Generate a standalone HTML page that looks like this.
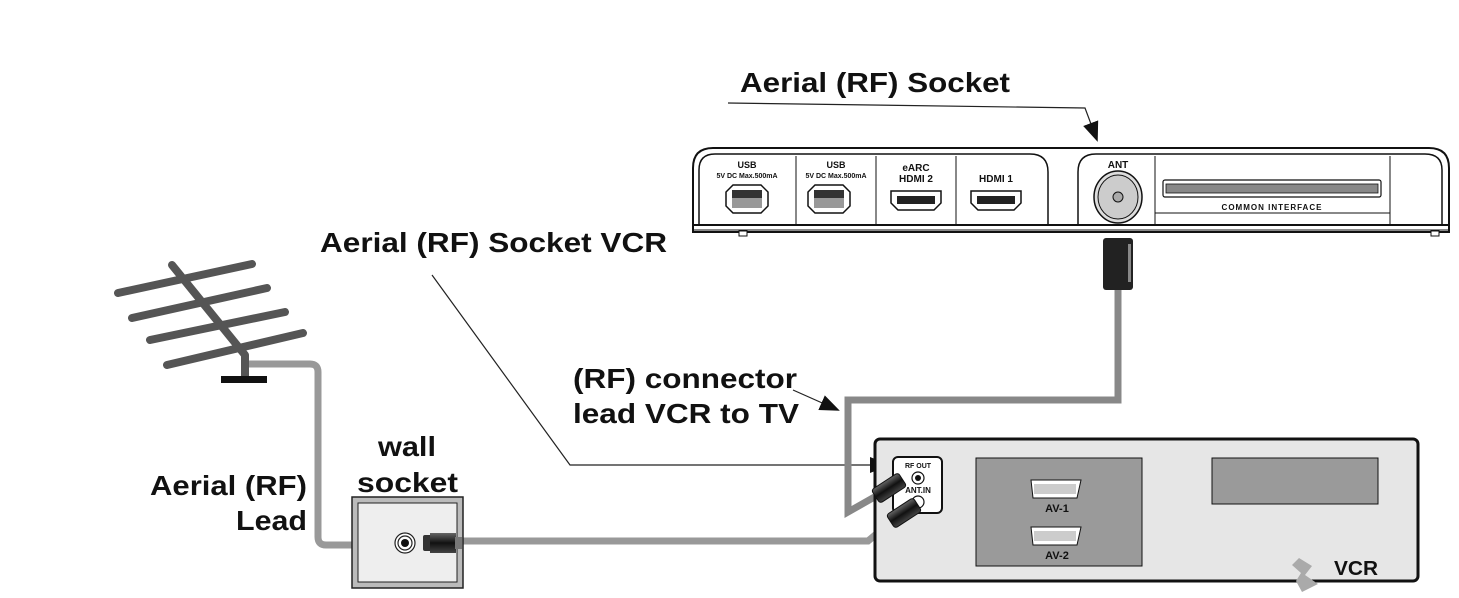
<!DOCTYPE html>
<html><head><meta charset="utf-8"><style>
html,body{margin:0;padding:0;background:#fff;}
svg{display:block;}
text{font-family:"Liberation Sans",Arial,sans-serif;font-weight:bold;fill:#111;}
</style></head><body>
<svg width="1459" height="598" viewBox="0 0 1459 598" xmlns="http://www.w3.org/2000/svg">
<defs>
<marker id="ah2" markerWidth="20" markerHeight="20" refX="18" refY="10" orient="auto" markerUnits="userSpaceOnUse">
<path d="M0,2 L20,10 L0,18 z" fill="#111"/></marker>
<linearGradient id="cg" x1="0" y1="0" x2="0" y2="1"><stop offset="0" stop-color="#666"/><stop offset="0.5" stop-color="#111"/><stop offset="1" stop-color="#444"/></linearGradient>
</defs>

<!-- labels -->
<text x="740" y="92" font-size="28" textLength="270" lengthAdjust="spacingAndGlyphs">Aerial (RF) Socket</text>
<polyline points="728,103 1085,108 1097,140" fill="none" stroke="#222" stroke-width="1.2" marker-end="url(#ah2)"/>
<text x="320" y="252" font-size="28" textLength="347" lengthAdjust="spacingAndGlyphs">Aerial (RF) Socket VCR</text>
<polyline points="432,275 570,465 888,465" fill="none" stroke="#222" stroke-width="1.2" marker-end="url(#ah2)"/>
<text x="573" y="388" font-size="28" textLength="224" lengthAdjust="spacingAndGlyphs">(RF) connector</text>
<text x="573" y="423" font-size="28" textLength="226" lengthAdjust="spacingAndGlyphs">lead VCR to TV</text>
<line x1="793" y1="390" x2="838" y2="410" stroke="#222" stroke-width="1.2" marker-end="url(#ah2)"/>
<text x="378" y="456" font-size="28" textLength="58" lengthAdjust="spacingAndGlyphs">wall</text>
<text x="357" y="492" font-size="28" textLength="101" lengthAdjust="spacingAndGlyphs">socket</text>
<text x="150" y="495" font-size="28" textLength="157" lengthAdjust="spacingAndGlyphs">Aerial (RF)</text>
<text x="236" y="530" font-size="28" textLength="71" lengthAdjust="spacingAndGlyphs">Lead</text>

<!-- antenna -->
<g stroke="#555" stroke-width="8" stroke-linecap="round">
<line x1="118" y1="293" x2="252" y2="264"/>
<line x1="132" y1="318" x2="267" y2="288"/>
<line x1="150" y1="340" x2="285" y2="312"/>
<line x1="167" y1="365" x2="303" y2="333"/>
<line x1="172" y1="265" x2="245" y2="355"/>
<line x1="245" y1="355" x2="245" y2="378" stroke-linecap="butt"/>
</g>
<rect x="221" y="376" width="46" height="7" fill="#111"/>

<!-- cables -->
<path d="M249,364 H310 Q318,364 318,372 V537 Q318,545 326,545 H352" fill="none" stroke="#999" stroke-width="7"/>
<path d="M462,541 H868 L893,520" fill="none" stroke="#999" stroke-width="7"/>
<path d="M1118,290 V400 H848 V512 L878,495" fill="none" stroke="#888" stroke-width="7"/>

<!-- wall socket -->
<rect x="352" y="497" width="111" height="91" fill="#bbb" stroke="#222" stroke-width="1.5"/>
<rect x="358" y="503" width="99" height="79" fill="#eee" stroke="#222" stroke-width="1"/>
<circle cx="405" cy="543" r="10" fill="#fff" stroke="#222" stroke-width="1.2"/>
<circle cx="405" cy="543" r="7" fill="#fff" stroke="#222" stroke-width="1.2"/>
<circle cx="405" cy="543" r="4" fill="#111"/>
<rect x="423" y="535" width="10" height="16" rx="2" fill="#333"/>
<rect x="430" y="533" width="26" height="20" fill="url(#cg)"/>
<rect x="455" y="537" width="7" height="12" fill="#777"/>

<!-- TV panel -->
<path d="M693,232 V168 Q693,148 713,148 H1429 Q1449,148 1449,168 V232 Z" fill="#fff" stroke="#111" stroke-width="2"/>
<path d="M699,225 V170 Q699,154 715,154 H1030 Q1048,154 1048,172 V225" fill="none" stroke="#111" stroke-width="1.5"/>
<path d="M1078,225 V172 Q1078,154 1096,154 H1425 Q1442,154 1442,170 V225" fill="none" stroke="#111" stroke-width="1.5"/>
<line x1="693" y1="225" x2="1449" y2="225" stroke="#111" stroke-width="2"/>
<line x1="693" y1="230" x2="1449" y2="230" stroke="#111" stroke-width="1"/>
<rect x="739" y="231" width="8" height="5" fill="#fff" stroke="#111" stroke-width="1"/>
<rect x="1431" y="231" width="8" height="5" fill="#fff" stroke="#111" stroke-width="1"/>
<g stroke="#111" stroke-width="1"><line x1="796" y1="156" x2="796" y2="225"/><line x1="876" y1="156" x2="876" y2="225"/><line x1="956" y1="156" x2="956" y2="225"/>
<line x1="1155" y1="156" x2="1155" y2="225"/><line x1="1390" y1="156" x2="1390" y2="225"/><line x1="1155" y1="213" x2="1390" y2="213"/></g>
<g font-size="9" text-anchor="middle">
<text x="747" y="168">USB</text><text x="747" y="178" font-size="7">5V DC Max.500mA</text>
<text x="836" y="168">USB</text><text x="836" y="178" font-size="7">5V DC Max.500mA</text>
<text x="916" y="171" font-size="10">eARC</text><text x="916" y="182" font-size="10">HDMI 2</text>
<text x="996" y="182" font-size="10">HDMI 1</text>
<text x="1118" y="168" font-size="10">ANT</text>
<text x="1272" y="210" font-size="8" letter-spacing="1">COMMON INTERFACE</text>
</g>
<g fill="#fff" stroke="#111" stroke-width="1.5">
<path d="M733,185 H761 L768,192 V206 L761,213 H733 L726,206 V192 Z"/>
<path d="M815,185 H843 L850,192 V206 L843,213 H815 L808,206 V192 Z"/>
<path d="M891,191 H941 V203 L934,210 H898 L891,203 Z"/>
<path d="M971,191 H1021 V203 L1014,210 H978 L971,203 Z"/>
</g>
<rect x="732" y="190" width="30" height="18" fill="#999"/><rect x="732" y="190" width="30" height="8" fill="#333"/>
<rect x="814" y="190" width="30" height="18" fill="#999"/><rect x="814" y="190" width="30" height="8" fill="#333"/>
<rect x="897" y="196" width="38" height="8" fill="#222"/><rect x="977" y="196" width="38" height="8" fill="#222"/>
<ellipse cx="1118" cy="197" rx="24" ry="26" fill="#ddd" stroke="#111" stroke-width="1.5"/>
<ellipse cx="1118" cy="197" rx="20" ry="22" fill="#ccc" stroke="#111" stroke-width="1"/>
<circle cx="1118" cy="197" r="5" fill="#aaa" stroke="#111" stroke-width="1"/>
<rect x="1163" y="180" width="218" height="17" rx="2" fill="#fff" stroke="#111" stroke-width="1.2"/>
<rect x="1166" y="184" width="212" height="9" fill="#888" stroke="#111" stroke-width="0.8"/>
<rect x="1103" y="238" width="30" height="52" rx="3" fill="#222"/>
<rect x="1128" y="244" width="3" height="38" fill="#888"/>

<!-- VCR -->
<rect x="875" y="439" width="543" height="142" rx="5" fill="#e6e6e6" stroke="#111" stroke-width="3"/>
<rect x="893" y="457" width="49" height="56" rx="5" fill="#fff" stroke="#111" stroke-width="2"/>
<text x="918" y="468" font-size="7" text-anchor="middle">RF OUT</text>
<circle cx="918" cy="478" r="6" fill="#fff" stroke="#111" stroke-width="1.2"/><circle cx="918" cy="478" r="3" fill="#111"/>
<text x="918" y="493" font-size="8" text-anchor="middle">ANT.IN</text>
<circle cx="918" cy="502" r="6" fill="#fff" stroke="#111" stroke-width="1.2"/>
<g transform="translate(889,488) rotate(-33)"><rect x="-16" y="-8" width="32" height="16" rx="3" fill="url(#cg)" stroke="#111" stroke-width="1"/></g>
<g transform="translate(904,513) rotate(-33)"><rect x="-16" y="-8" width="32" height="16" rx="3" fill="url(#cg)" stroke="#111" stroke-width="1"/></g>
<rect x="976" y="458" width="166" height="108" fill="#9a9a9a" stroke="#111" stroke-width="1"/>
<rect x="1212" y="458" width="166" height="46" fill="#9a9a9a" stroke="#111" stroke-width="1"/>
<g fill="#fff" stroke="#111" stroke-width="1">
<path d="M1031,480 H1081 L1077,498 H1033 Z"/><path d="M1031,527 H1081 L1077,545 H1033 Z"/></g>
<rect x="1034" y="484" width="42" height="10" fill="#ccc"/><rect x="1034" y="531" width="42" height="10" fill="#ccc"/>
<text x="1057" y="512" font-size="11" text-anchor="middle">AV-1</text>
<text x="1057" y="559" font-size="11" text-anchor="middle">AV-2</text>
<path d="M1299,558 L1312,566 L1305,575 L1318,584 L1302,592 L1296,581 L1301,573 L1292,565 Z" fill="#aaa"/>
<text x="1334" y="575" font-size="20" textLength="44" lengthAdjust="spacingAndGlyphs">VCR</text>
</svg>
</body></html>
